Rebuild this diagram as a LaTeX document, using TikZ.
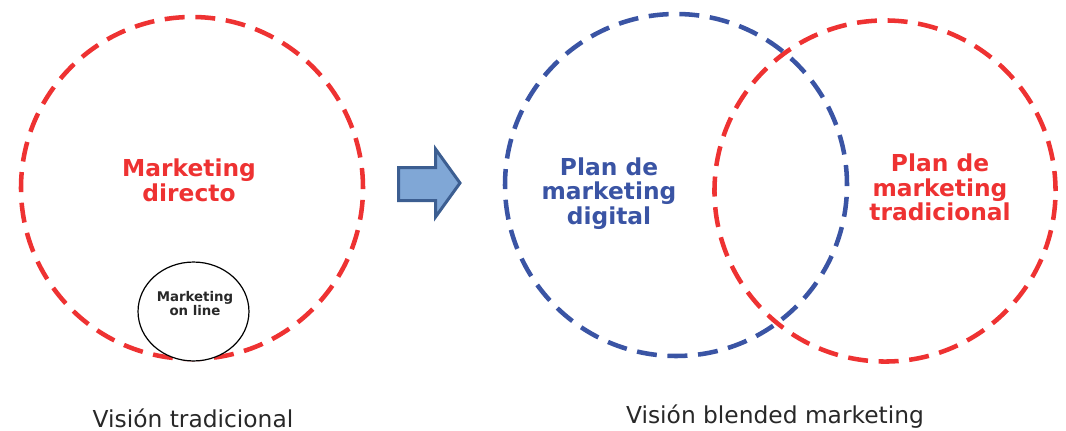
\documentclass[tikz,border=0pt]{standalone}
\usepackage{fontspec}
\setmainfont{DejaVu Sans}
\definecolor{mkred}{RGB}{238,50,50}
\definecolor{mkblue}{RGB}{58,84,164}
\definecolor{arrowfill}{RGB}{128,167,214}
\definecolor{arrowline}{RGB}{60,94,145}
\definecolor{mkgray}{RGB}{40,40,40}
\begin{document}
\begin{tikzpicture}[x=0.75pt, y=-0.75pt, line join=round,
	ring/.style={line width=3.4pt, dash pattern=on 15pt off 8pt},
	bigtext/.style={font=\fontsize{17.5}{18.5}\selectfont\bfseries, align=center},
	caption/.style={font=\fontsize{17.5}{21}\selectfont, text=mkgray, anchor=base}]
	\useasboundingbox (0,0) rectangle (1066,431);
	% ==========================================
	% Visión tradicional
	\draw[ring, mkred] (192,188) circle[radius=128.25pt];
	\node[bigtext, text=mkred] (directo) at (189,180) {Marketing\\ directo};
	\draw[black, line width=0.9pt, fill=white] (193.5,311.5) ellipse[x radius=41.6pt, y radius=37.1pt];
	\node[font=\fontsize{10}{10.5}\selectfont\bfseries, text=mkgray, align=center] (online) at (195,304) {Marketing\\ on line};
	\node[caption] (tradicional) at (193,427) {Visión tradicional};
	% ==========================================
	% Flecha
	\draw[line width=2.25pt, draw=arrowline, fill=arrowfill, line join=miter]
	(398.5,167.5) -- (435.5,167.5) -- (435.5,149) -- (460,183) -- (435.5,217) -- (435.5,200.5) -- (398.5,200.5) -- cycle;
	% ==========================================
	% Visión blended marketing
	\draw[ring, mkred] (885,191) circle[radius=127.9pt];
	\draw[ring, mkblue] (676,185) circle[radius=128.25pt];
	\node[bigtext, text=mkblue] (digital) at (609,193.5) {Plan de\\ marketing\\ digital};
	\node[bigtext, text=mkred] (offline) at (940,187.5) {Plan de\\ marketing\\ tradicional};
	\node[caption] (blended) at (775,423) {Visión blended marketing};
\end{tikzpicture}
\end{document}
